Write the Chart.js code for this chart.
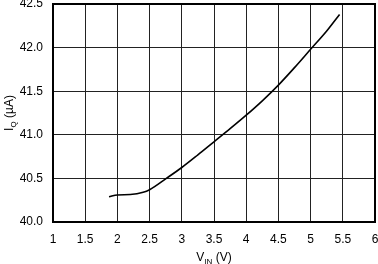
<!DOCTYPE html>
<html>
<head>
<meta charset="utf-8">
<script src="https://cdn.jsdelivr.net/npm/chart.js@4.4.0/dist/chart.umd.min.js"></script>
<style>
  html, body { margin: 0; padding: 0; background: #fff; }
</style>
</head>
<body>
<canvas id="myChart" width="378" height="264"></canvas>
<script>
// supply voltage (V) and quiescent current (uA)
const vin = [1.87, 2.0, 2.2, 2.4, 2.5, 2.76, 3.0, 3.25, 3.5, 3.75, 4.0, 4.25, 4.5, 4.75, 5.0, 5.25, 5.45]
const iq = [40.29, 40.31, 40.315, 40.34, 40.37, 40.50, 40.625, 40.77, 40.92, 41.07, 41.225, 41.39, 41.57, 41.77, 41.98, 42.19, 42.38]

const xTickLabels = ['1', '1.5', '2', '2.5', '3', '3.5', '4', '4.5', '5', '5.5', '6']
const yTickLabels = ['40.0', '40.5', '41.0', '41.5', '42.0', '42.5']

const FONT = 'Arial, "Liberation Sans", sans-serif'

// draws "main + subscript + rest" centred on (0,0), baseline at 0
function subText(ctx, main, sub, rest) {
    ctx.font = '12px ' + FONT
    const w1 = ctx.measureText(main).width
    const w3 = ctx.measureText(rest).width
    ctx.font = '8px ' + FONT
    const w2 = ctx.measureText(sub).width
    let x = -(w1 + w2 + w3) / 2
    ctx.textAlign = 'left'
    ctx.textBaseline = 'alphabetic'
    ctx.font = '12px ' + FONT
    ctx.fillText(main, x, 0)
    x += w1
    ctx.font = '8px ' + FONT
    ctx.fillText(sub, x, 3)
    x += w2
    ctx.font = '12px ' + FONT
    ctx.fillText(rest, x, 0)
}

const framePlugin = {
    id: 'frame',
    afterDraw(chart) {
        const { ctx, chartArea } = chart
        ctx.save()
        ctx.strokeStyle = '#000'
        ctx.lineWidth = 2
        ctx.strokeRect(chartArea.left, chartArea.top, chartArea.right - chartArea.left, chartArea.bottom - chartArea.top)
        ctx.fillStyle = '#000'
        // x title
        ctx.save()
        ctx.translate((chartArea.left + chartArea.right) / 2, 261)
        subText(ctx, 'V', 'IN', ' (V)')
        ctx.restore()
        // y title
        ctx.save()
        ctx.translate(13, (chartArea.top + chartArea.bottom) / 2)
        ctx.rotate(-Math.PI / 2)
        subText(ctx, 'I', 'Q', ' (\u00b5A)')
        ctx.restore()
        ctx.restore()
    }
}

const ctx = document.getElementById('myChart')
new Chart(ctx, {
    type: 'line',
    data: {
        datasets: [
            {
                data: vin.map((v, i) => ({ x: v, y: iq[i] })),
                borderColor: '#000',
                borderWidth: 1.6,
                pointRadius: 0,
                fill: false,
                tension: 0.4,
                cubicInterpolationMode: 'monotone'
            }
        ]
    },
    options: {
        responsive: false,
        animation: false,
        layout: { padding: { top: 4, right: 3, left: 0, bottom: 0 } },
        plugins: { legend: { display: false }, tooltip: { enabled: false } },
        scales: {
            x: {
                type: 'linear',
                min: 1,
                max: 6,
                afterFit: s => { s.height = 42; s.paddingLeft = 0; s.paddingRight = 0 },
                afterBuildTicks: s => { s.ticks = xTickLabels.map(t => ({ value: parseFloat(t) })) },
                ticks: {
                    padding: 10,
                    color: '#000',
                    font: { family: FONT, size: 12 },
                    maxRotation: 0,
                    autoSkip: false,
                    callback: (v, i) => xTickLabels[i]
                },
                grid: { color: '#222', lineWidth: 1, drawTicks: false },
                border: { display: false }
            },
            y: {
                type: 'linear',
                min: 40,
                max: 42.5,
                afterFit: s => { s.width = 53; s.paddingTop = 0; s.paddingBottom = 0 },
                afterBuildTicks: s => { s.ticks = yTickLabels.map(t => ({ value: parseFloat(t) })) },
                ticks: {
                    padding: 10,
                    color: '#000',
                    font: { family: FONT, size: 12 },
                    autoSkip: false,
                    callback: (v, i) => yTickLabels[i]
                },
                grid: { color: '#222', lineWidth: 1, drawTicks: false },
                border: { display: false }
            }
        }
    },
    plugins: [framePlugin]
})
</script>
</body>
</html>
